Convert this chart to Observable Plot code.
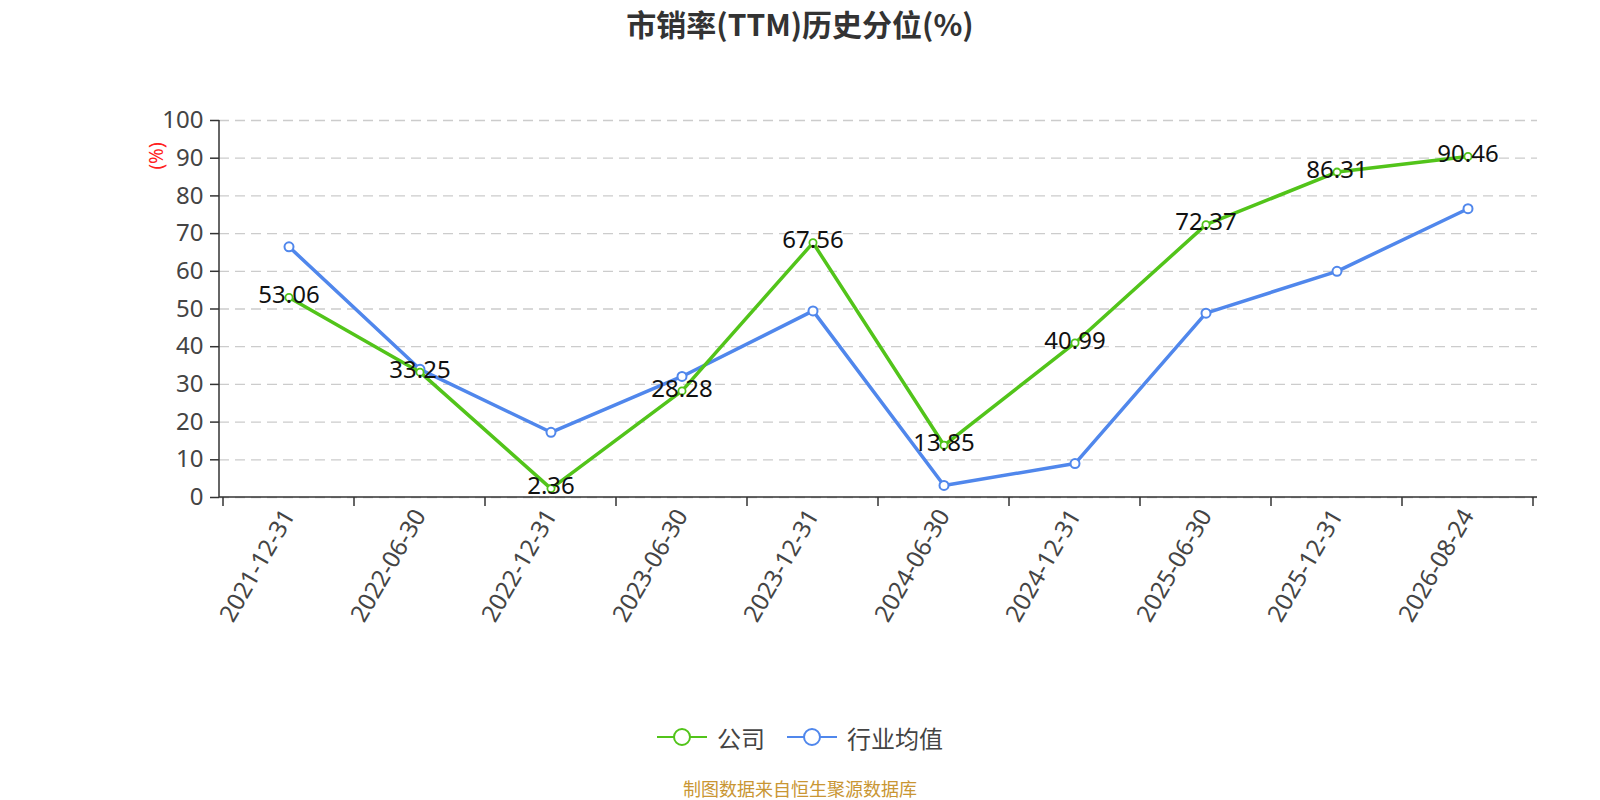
<!DOCTYPE html>
<html>
<head>
<meta charset="utf-8">
<script src="https://cdn.jsdelivr.net/npm/d3@7"></script>
<script src="https://cdn.jsdelivr.net/npm/@observablehq/plot@0.6"></script>
<style>
  html, body { margin: 0; padding: 0; background: #fff; }
  #page { position: relative; width: 1600px; height: 800px; background: #fff; overflow: hidden;
          font-family: "Noto Sans", "Noto Sans CJK SC", sans-serif; }
  #title { position: absolute; left: 0; top: 0; width: 1600px; height: 46px; line-height: 46px; text-align: center;
           font-family: "Noto Sans CJK SC", "Noto Sans", sans-serif; font-weight: bold; font-size: 30px; color: #333; }
  #chart { position: absolute; left: 0; top: 60px; }
  #unit { position: absolute; left: 142px; top: 143px; color: #ff2020; font-size: 19px; line-height: 26px;
          transform: rotate(-90deg); transform-origin: center; font-family: "Noto Sans", sans-serif; }
  #legend { position: absolute; left: 0; top: 720px; width: 1600px; height: 34px; display: flex;
            justify-content: center; align-items: center; gap: 22px;
            font-family: "Noto Sans CJK SC", sans-serif; font-size: 24px; color: #444; }
  .item { display: flex; align-items: center; gap: 10px; }
  #footer { position: absolute; left: 0; top: 777px; width: 1600px; height: 22px; line-height: 22px; text-align: center;
            font-family: "Noto Sans CJK SC", sans-serif; font-size: 18px; color: #c99633; }
</style>
</head>
<body>
<div id="page">
  <div id="title">市销率(TTM)历史分位(%)</div>
  <div id="chart"></div>
  <div id="unit">(%)</div>
  <div id="legend"></div>
  <div id="footer">制图数据来自恒生聚源数据库</div>
</div>
<script>
// ---- data ----
const dates = ["2021-12-31","2022-06-30","2022-12-31","2023-06-30","2023-12-31","2024-06-30","2024-12-31","2025-06-30","2025-12-31","2026-08-24"];
const companyValues = [53.06, 33.25, 2.36, 28.28, 67.56, 13.85, 40.99, 72.37, 86.31, 90.46];
const industryValues = [66.5, 34.0, 17.3, 32.1, 49.5, 3.2, 9.0, 48.9, 60.0, 76.6];
const yTicks = [0,10,20,30,40,50,60,70,80,90,100];
const seriesNames = ["公司", "行业均值"];
const seriesColors = ["#52c41a", "#5087ec"];

const company = dates.map((d, i) => ({date: d, value: companyValues[i]}));
const industry = dates.map((d, i) => ({date: d, value: industryValues[i]}));

// custom axis lines + band-boundary ticks
function axisFrame(index, scales, values, dims) {
  const g = d3.create("svg:g");
  const x = scales.x;
  const bw = x.bandwidth ? x.bandwidth() : 0;
  const left = dims.marginLeft, right = dims.width - dims.marginRight;
  const top = dims.marginTop, bottom = dims.height - dims.marginBottom;
  const bounds = dates.map(d => x(d)).concat([x(dates[dates.length - 1]) + bw]);
  g.append("line").attr("x1", left).attr("x2", left).attr("y1", top).attr("y2", bottom)
    .attr("stroke", "#333").attr("stroke-width", 1.5);
  g.append("line").attr("x1", left).attr("x2", right).attr("y1", bottom).attr("y2", bottom)
    .attr("stroke", "#333").attr("stroke-width", 1.5);
  for (const b of bounds) {
    g.append("line").attr("x1", b).attr("x2", b).attr("y1", bottom).attr("y2", bottom + 9)
      .attr("stroke", "#333").attr("stroke-width", 1.5);
  }
  return g.node();
}

const chart = Plot.plot({
  width: 1600,
  height: 630,
  marginTop: 60,
  marginBottom: 193,
  marginLeft: 219,
  marginRight: 63,
  style: {fontFamily: "'Noto Sans', 'Noto Sans CJK SC', sans-serif", background: "transparent", overflow: "visible"},
  x: {type: "band", domain: dates, padding: 0},
  y: {domain: [0, 100]},
  marks: [
    Plot.gridY(yTicks, {stroke: "#ccc", strokeOpacity: 1, strokeDasharray: "10,6", strokeWidth: 1.3}),
    Plot.axisY(yTicks, {tickSize: 9, tickPadding: 7, fontSize: 24, color: "#444", stroke: "#333", strokeWidth: 1.5, label: null}),
    Plot.axisX({tickSize: 0, tickPadding: 14, tickRotate: -60, fontSize: 24, color: "#444", label: null}),
    axisFrame,
    Plot.line(industry, {x: "date", y: "value", stroke: seriesColors[1], strokeWidth: 3.5}),
    Plot.dot(industry, {x: "date", y: "value", r: 4.5, fill: "#fff", stroke: seriesColors[1], strokeWidth: 2}),
    Plot.line(company, {x: "date", y: "value", stroke: seriesColors[0], strokeWidth: 3.5}),
    Plot.dot(company, {x: "date", y: "value", r: 3.6, fill: "#fff", stroke: seriesColors[0], strokeWidth: 1.8}),
    Plot.text(company, {x: "date", y: "value", text: d => d.value.toFixed(2), fontSize: 24, fill: "#111", dy: -2})
  ]
});
document.getElementById("chart").appendChild(chart);

// legend
const legend = document.getElementById("legend");
seriesNames.forEach((name, i) => {
  const item = document.createElement("div");
  item.className = "item";
  item.innerHTML = `<svg width="50" height="20"><line x1="0" x2="50" y1="10" y2="10" stroke="${seriesColors[i]}" stroke-width="2"/>` +
    `<circle cx="25" cy="10" r="8" fill="#fff" stroke="${seriesColors[i]}" stroke-width="2"/></svg><span>${name}</span>`;
  legend.appendChild(item);
});
</script>
</body>
</html>
